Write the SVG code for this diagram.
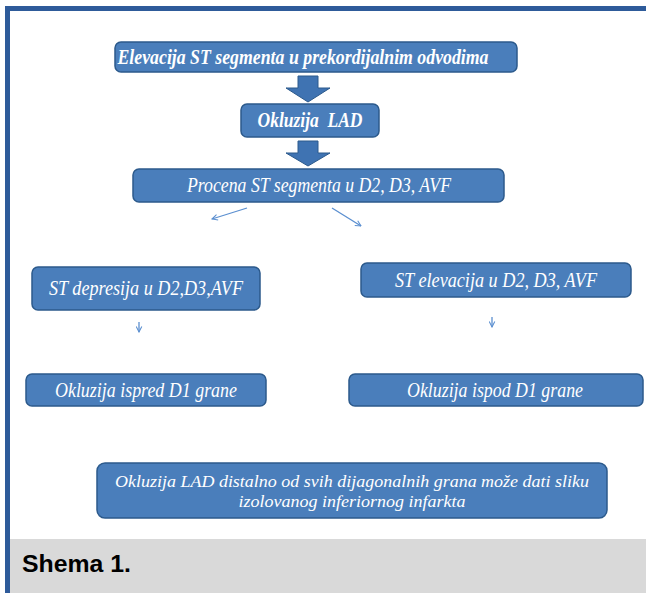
<svg xmlns="http://www.w3.org/2000/svg" width="646" height="593" viewBox="0 0 646 593">
<defs>
<style>
.box{fill:#4a7ebb;stroke:#2c5a8c;stroke-width:1.5}
.t{font-family:"Liberation Serif","Times New Roman",serif;font-style:italic;fill:#ffffff;text-anchor:middle}
.b{font-weight:bold}
.big{fill:#3f73b2;stroke:#2c5a8c;stroke-width:1}
.thin{stroke:#5b8fd0;stroke-width:1.3;fill:none}
</style>
<marker id="ah" viewBox="0 0 10 10" refX="9" refY="5" markerWidth="7" markerHeight="7" orient="auto" markerUnits="userSpaceOnUse">
<path d="M1,1 L9,5 L1,9" fill="none" stroke="#5b8fd0" stroke-width="1.5"/>
</marker>
</defs>
<rect x="0" y="0" width="646" height="593" fill="#ffffff"/>
<rect x="10" y="539" width="636" height="54" fill="#d9d9d9"/>
<rect x="5" y="6" width="641" height="5" fill="#2e5b9a"/>
<rect x="5" y="6" width="5" height="587" fill="#2e5b9a"/>

<g id="connectors">
<polygon class="big" points="298,76 318,76 318,88 330,88 308,102 286,88 298,88"/>
<polygon class="big" points="298,141 318,141 318,153 330,153 308,166 286,153 298,153"/>
<line class="thin" x1="247" y1="208" x2="212" y2="219" marker-end="url(#ah)"/>
<line class="thin" x1="332" y1="208" x2="361" y2="226" marker-end="url(#ah)"/>
<line class="thin" x1="139" y1="322" x2="139" y2="332" marker-end="url(#ah)"/>
<line class="thin" x1="492" y1="317" x2="492" y2="327" marker-end="url(#ah)"/>
</g>

<g id="n1">
<rect class="box" x="115" y="42" width="402" height="30" rx="6"/>
<text class="t b" x="303" y="64" font-size="21" textLength="371" lengthAdjust="spacingAndGlyphs">Elevacija ST segmenta u prekordijalnim odvodima</text>
</g>
<g id="n2">
<rect class="box" x="241" y="104" width="138" height="33" rx="6"/>
<text class="t b" x="310" y="127" font-size="21" textLength="105" lengthAdjust="spacingAndGlyphs" xml:space="preserve">Okluzija  LAD</text>
</g>
<g id="n3">
<rect class="box" x="133" y="169" width="371" height="33" rx="6"/>
<text class="t" x="319" y="192" font-size="21" textLength="264" lengthAdjust="spacingAndGlyphs">Procena ST segmenta u D2, D3, AVF</text>
</g>
<g id="n4">
<rect class="box" x="32" y="267" width="228" height="43" rx="6"/>
<text class="t" x="146" y="295" font-size="21" textLength="194" lengthAdjust="spacingAndGlyphs">ST depresija u D2,D3,AVF</text>
</g>
<g id="n5">
<rect class="box" x="361" y="263" width="270" height="34" rx="6"/>
<text class="t" x="496" y="287" font-size="21" textLength="202" lengthAdjust="spacingAndGlyphs">ST elevacija u D2, D3, AVF</text>
</g>
<g id="n6">
<rect class="box" x="26" y="374" width="240" height="32" rx="6"/>
<text class="t" x="146" y="397" font-size="21" textLength="182" lengthAdjust="spacingAndGlyphs">Okluzija ispred D1 grane</text>
</g>
<g id="n7">
<rect class="box" x="349" y="374" width="294" height="32" rx="6"/>
<text class="t" x="495" y="397" font-size="21" textLength="176" lengthAdjust="spacingAndGlyphs">Okluzija ispod D1 grane</text>
</g>
<g id="n8">
<rect class="box" x="97" y="463" width="510" height="55" rx="8"/>
<text class="t" x="352" y="487" font-size="17" textLength="474" lengthAdjust="spacingAndGlyphs">Okluzija LAD distalno od svih dijagonalnih grana može dati sliku</text>
<text class="t" x="352" y="507" font-size="17" textLength="227" lengthAdjust="spacingAndGlyphs">izolovanog inferiornog infarkta</text>
</g>
<text x="22" y="572" font-family="Liberation Sans, Arial, sans-serif" font-weight="bold" font-size="23" fill="#000000" textLength="109" lengthAdjust="spacingAndGlyphs">Shema 1.</text>
</svg>
